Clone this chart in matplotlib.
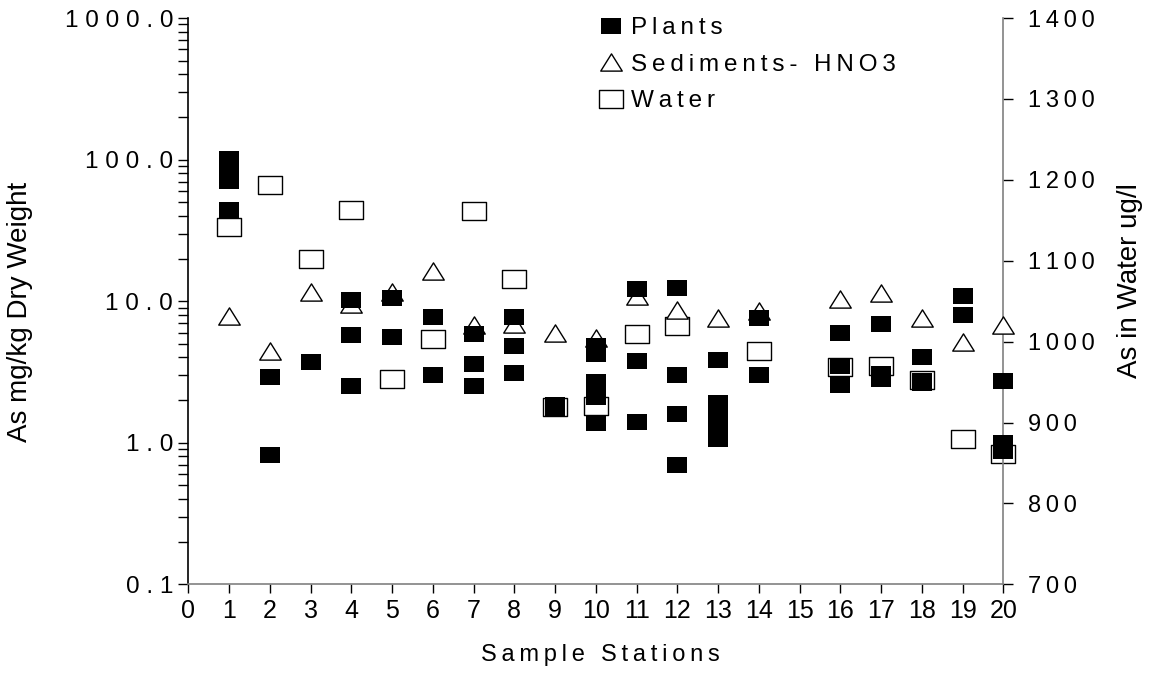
import matplotlib
matplotlib.use("Agg")
import matplotlib.pyplot as plt
from matplotlib.path import Path
from matplotlib.lines import Line2D
from matplotlib.ticker import FixedLocator, FixedFormatter, LogLocator, NullFormatter

plt.rcParams['font.family'] = ['Liberation Sans', 'DejaVu Sans']
NARROW = ['Liberation Sans Narrow', 'Liberation Sans', 'DejaVu Sans']

# As in plant tissue (mg/kg dry weight), several samples per station
plant_station = [1, 1, 1, 1, 2, 2, 3, 4, 4, 4, 5, 5, 6, 6, 7, 7, 7, 8, 8, 8,
                 9, 9, 10, 10, 10, 10, 10, 11, 11, 11, 12, 12, 12, 12,
                 13, 13, 13, 13, 13, 14, 14, 16, 16, 16, 17, 17, 17,
                 18, 18, 18, 19, 19, 20, 20, 20]
plant_as = [101, 85, 71, 44, 2.9, 0.82, 3.7, 10.2, 5.75, 2.5, 10.5, 5.6, 7.7, 3.0,
            5.9, 3.6, 2.5, 7.7, 4.8, 3.1, 1.85, 1.75, 4.85, 4.25, 2.7, 2.1, 1.37,
            12.1, 3.77, 1.41, 12.4, 3.0, 1.59, 0.70, 3.84, 1.92, 1.6, 1.3, 1.07,
            7.64, 3.02, 5.96, 3.5, 2.56, 6.92, 3.05, 2.8, 4.05, 2.75, 2.65,
            10.9, 7.98, 2.73, 1.0, 0.88]

# As in sediments, HNO3 digestion (mg/kg dry weight)
sed_station = [1, 2, 3, 4, 5, 6, 7, 8, 9, 10, 11, 12, 13, 14, 16, 17, 18, 19, 20]
sed_as = [7.9, 4.46, 11.7, 9.6, 11.6, 16.4, 6.8, 6.9, 6.0, 5.46, 10.9, 8.6, 7.55,
          8.5, 10.4, 11.5, 7.6, 5.12, 6.75]

# As in water (ug/l), right axis
water_station = [1, 2, 3, 4, 5, 6, 7, 8, 9, 10, 11, 12, 14, 16, 17, 18, 19, 20]
water_as = [1142, 1193, 1102, 1163, 954, 1003, 1161, 1078, 919, 921, 1010, 1019,
            989, 969, 970, 953, 880, 861]

left_ticks = [0.1, 1, 10, 100, 1000]
left_labels = ['0.1', '1.0', '10.0', '100.0', '1000.0']
right_ticks = [700, 800, 900, 1000, 1100, 1200, 1300, 1400]
x_ticks = list(range(0, 21))


def spaced(s, gap='\u2009'):
    # wide tracking between letters
    return gap.join(s)


# slightly wide marker shapes
rect = Path([(-0.5, -0.4), (0.5, -0.4), (0.5, 0.4), (-0.5, 0.4), (-0.5, -0.4)],
            [Path.MOVETO, Path.LINETO, Path.LINETO, Path.LINETO, Path.CLOSEPOLY])
tri = Path([(0, 0.4), (-0.5, -0.4), (0.5, -0.4), (0, 0.4)],
           [Path.MOVETO, Path.LINETO, Path.LINETO, Path.CLOSEPOLY])

fig = plt.figure(figsize=(11.53, 6.85), dpi=100)
ax = fig.add_axes([0.1633, 0.147, 0.7069, 0.8267])
ax2 = ax.twinx()
ax.set_zorder(2)
ax2.set_zorder(1)
ax.patch.set_visible(False)

plant_style = dict(ls='none', marker=rect, ms=15, mfc='black', mec='black', mew=0)
sed_style = dict(ls='none', marker=tri, ms=15.5, mfc='white', mec='black', mew=1.0)
water_style = dict(ls='none', marker=rect, ms=17, mfc='white', mec='black', mew=1.0)

ax2.plot(water_station, water_as, clip_on=False, **water_style)
ax.plot(sed_station, sed_as, clip_on=False, **sed_style)
ax.plot(plant_station, plant_as, clip_on=False, **plant_style)

ax.set_yscale('log')
ax.set_ylim(0.1, 1000)
ax.set_xlim(0, 20)
ax2.set_ylim(700, 1400)

ax.yaxis.set_major_locator(FixedLocator(left_ticks))
ax.yaxis.set_major_formatter(FixedFormatter([spaced(t, ' ') for t in left_labels]))
ax.yaxis.set_minor_locator(LogLocator(base=10, subs=range(2, 10)))
ax.yaxis.set_minor_formatter(NullFormatter())
ax.xaxis.set_major_locator(FixedLocator(x_ticks))
ax.set_xticklabels([str(t) for t in x_ticks], family=NARROW)
ax2.yaxis.set_major_locator(FixedLocator(right_ticks))
ax2.set_yticklabels([spaced(str(t)) for t in right_ticks])

ax.tick_params(axis='y', which='both', direction='out', length=7, width=1,
               labelsize=17.5, pad=4)
ax.tick_params(axis='x', direction='out', length=6.5, width=1, labelsize=18, pad=4)
ax2.tick_params(axis='y', direction='out', length=7, width=1, labelsize=17, pad=11)

for s in ['top', 'right']:
    ax.spines[s].set_visible(False)
for s in ['top', 'left', 'bottom']:
    ax2.spines[s].set_visible(False)
ax.spines['left'].set_color('black')
ax.spines['bottom'].set_color('#808080')
ax2.spines['right'].set_color('#808080')
for sp in [ax.spines['left'], ax.spines['bottom'], ax2.spines['right']]:
    sp.set_linewidth(1.2)

ax.set_xlabel(spaced('Sample Stations'), fontsize=17, family=NARROW, va='center')
ax.xaxis.set_label_coords(0.505, -0.125)
ax.set_ylabel('As mg/kg Dry Weight', fontsize=20, family=NARROW, va='center')
ax.yaxis.set_label_coords(-0.2065, 0.481)
ax2.set_ylabel('As in Water ug/l', fontsize=20, family=NARROW, va='center')
ax2.yaxis.set_label_coords(1.1555, 0.537)

handles = [Line2D([], [], **plant_style),
           Line2D([], [], **sed_style),
           Line2D([], [], **water_style)]
labels = [spaced('Plants'), spaced('Sediments- HNO3'), spaced('Water')]
ax.legend(handles, labels, loc='upper left', bbox_to_anchor=(599 / 1153, 1 - 17 / 685),
          bbox_transform=fig.transFigure, frameon=False, fontsize=17.5, numpoints=1,
          borderpad=0, borderaxespad=0, handlelength=1.0, handletextpad=0.3,
          labelspacing=0.6)

fig.savefig('out.png', dpi=100)
